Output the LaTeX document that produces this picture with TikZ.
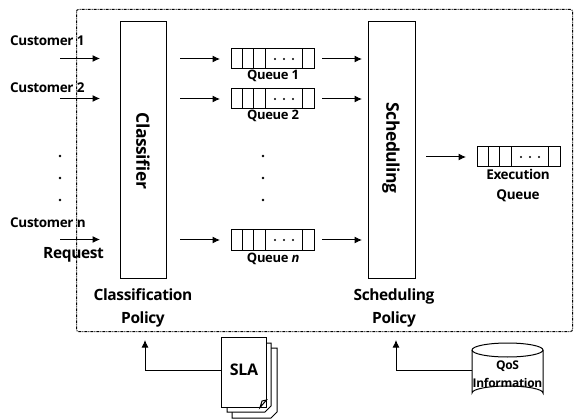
\documentclass[tikz,border=0pt]{standalone}
\usepackage{fontspec}
\setmainfont[LetterSpace=-2.5]{Open Sans}
\usetikzlibrary{arrows.meta}
\tikzset{
  box/.style={draw,line width=1pt,inner sep=0pt,anchor=north west},
  flow/.style={line width=1pt,-{Latex[length=7.5pt,width=7pt]}},
  lbl/.style={inner sep=0pt,font=\fontsize{13}{15}\selectfont\bfseries,align=center},
  cust/.style={inner sep=0pt,anchor=west,font=\fontsize{13.5}{16}\selectfont\bfseries},
  big/.style={inner sep=0pt,font=\fontsize{15.5}{23}\selectfont\bfseries,align=center},
  vlbl/.style={inner sep=0pt,font=\fontsize{17.5}{20}\selectfont\bfseries,rotate=-90},
  small/.style={inner sep=0pt,font=\fontsize{12}{18}\selectfont\bfseries,align=center},
  exec/.style={inner sep=0pt,font=\fontsize{13.5}{20}\selectfont\bfseries,align=center},
  qbox/.style={box,minimum width=83pt,minimum height=20pt},
  tick/.style={line width=1pt},
  pt/.style={circle,fill,inner sep=0pt,minimum size=2.8pt},
  page/.style={draw,fill=white,line width=1pt}
}
\newcommand{\queueat}[3]{%
  \node[qbox] (#1) at (#2,#3) {};
  \foreach \dx in {11,22,34,71} \draw[tick] ([xshift=\dx pt]#1.north west) -- ([xshift=\dx pt]#1.south west);
  \foreach \dx in {44,53,62} \fill ([xshift=\dx pt]#1.west) circle (1.2pt);
}
\begin{document}
\begin{tikzpicture}[x=1pt,y=-1pt]
\useasboundingbox (0,0) rectangle (577,419);
\node[draw,line width=1pt,dash pattern=on 3pt off 1pt on 1pt off 1pt,rounded corners=2pt,minimum width=496pt,minimum height=322pt,inner sep=0pt,anchor=north west] (outer) at (76,9) {};
\node[box,minimum width=46pt,minimum height=257pt] (cls) at (120,21) {};
\node[box,minimum width=47pt,minimum height=257pt] (sch) at (368,21) {};
\node[vlbl] (clst) at (143,151) {Classifier};
\node[vlbl] (scht) at (391,148) {Scheduling};
\queueat{qa}{231}{48.5}
\queueat{qb}{231}{88.5}
\queueat{qn}{231}{229.5}
\queueat{qe}{477}{146.5}
\node[lbl] (qat) at (273,76) {Queue 1};
\node[lbl] (qbt) at (273,116) {Queue 2};
\node[lbl] (qnt) at (273,259) {Queue \textit{n}};
\node[exec,anchor=north] (qet) at (518,169) {Execution\\Queue};
\node[cust] (ca) at (10,41) {Customer 1};
\node[cust] (cb) at (10,88) {Customer 2};
\node[cust] (cn) at (10,223) {Customer n};
\node[big,anchor=west] (req) at (43,255) {Request};
\node[big] (cp) at (143,308) {Classification\\Policy};
\node[big] (sp) at (394,308) {Scheduling\\Policy};
\coordinate (ia) at (60,58.5);
\coordinate (ib) at (60,98.5);
\coordinate (in) at (60,239.5);
\foreach \c in {ia,ib,in} \draw[flow,shorten >=20pt] (\c) -- (\c -| cls.west);
\draw[flow,shorten <=13pt,shorten >=11pt] (cls.east |- qa.west) -- (qa.west);
\draw[flow,shorten <=13pt,shorten >=11pt] (cls.east |- qb.west) -- (qb.west);
\draw[flow,shorten <=13pt,shorten >=11pt] (cls.east |- qn.west) -- (qn.west);
\draw[flow,shorten <=7pt,shorten >=6pt] (qa.east) -- (sch.west |- qa.east);
\draw[flow,shorten <=7pt,shorten >=6pt] (qb.east) -- (sch.west |- qb.east);
\draw[flow,shorten <=7pt,shorten >=6pt] (qn.east) -- (sch.west |- qn.east);
\draw[flow,shorten <=10pt,shorten >=11pt] (sch.east |- qe.west) -- (qe.west);
\foreach \y in {156,178,200} {\node[pt] at (60,\y) {}; \node[pt] at (263,\y) {};}
% SLA stack
\draw[page] (232,348) -- (277,348) -- (277,412) -- (271,418) -- (232,418) -- cycle;
\draw[page] (227,343) -- (271,343) -- (271,406) -- (265,412) -- (227,412) -- cycle;
\node[page,minimum width=45pt,minimum height=70pt,inner sep=0pt,anchor=north west] (sla) at (221,337) {};
\draw[page] (260,407.5) -- (266.5,400) -- (262,401) -- cycle;
\node[inner sep=0pt,font=\fontsize{16}{18}\selectfont\bfseries] (slat) at (244,370) {SLA};
\coordinate (cpin) at (145,340);
\draw[flow] (sla.west |- 0,370.5) -| (cpin);
% QoS cylinder
\node[minimum width=71pt,minimum height=57pt,inner sep=0pt,anchor=north west] (qos) at (472,343) {};
\draw[line width=1pt] (472,350) arc[x radius=35.5,y radius=7,start angle=180,end angle=360] -- (543,393) arc[x radius=35.5,y radius=7,start angle=0,end angle=-180] -- cycle;
\draw[line width=1pt] (472,350) arc[x radius=35.5,y radius=7,start angle=180,end angle=0];
\node[small] (qost) at (507.5,374) {QoS\\Information};
\coordinate (spin) at (396,340);
\draw[flow] (qos.west |- 0,370.5) -| (spin);
\end{tikzpicture}
\end{document}
